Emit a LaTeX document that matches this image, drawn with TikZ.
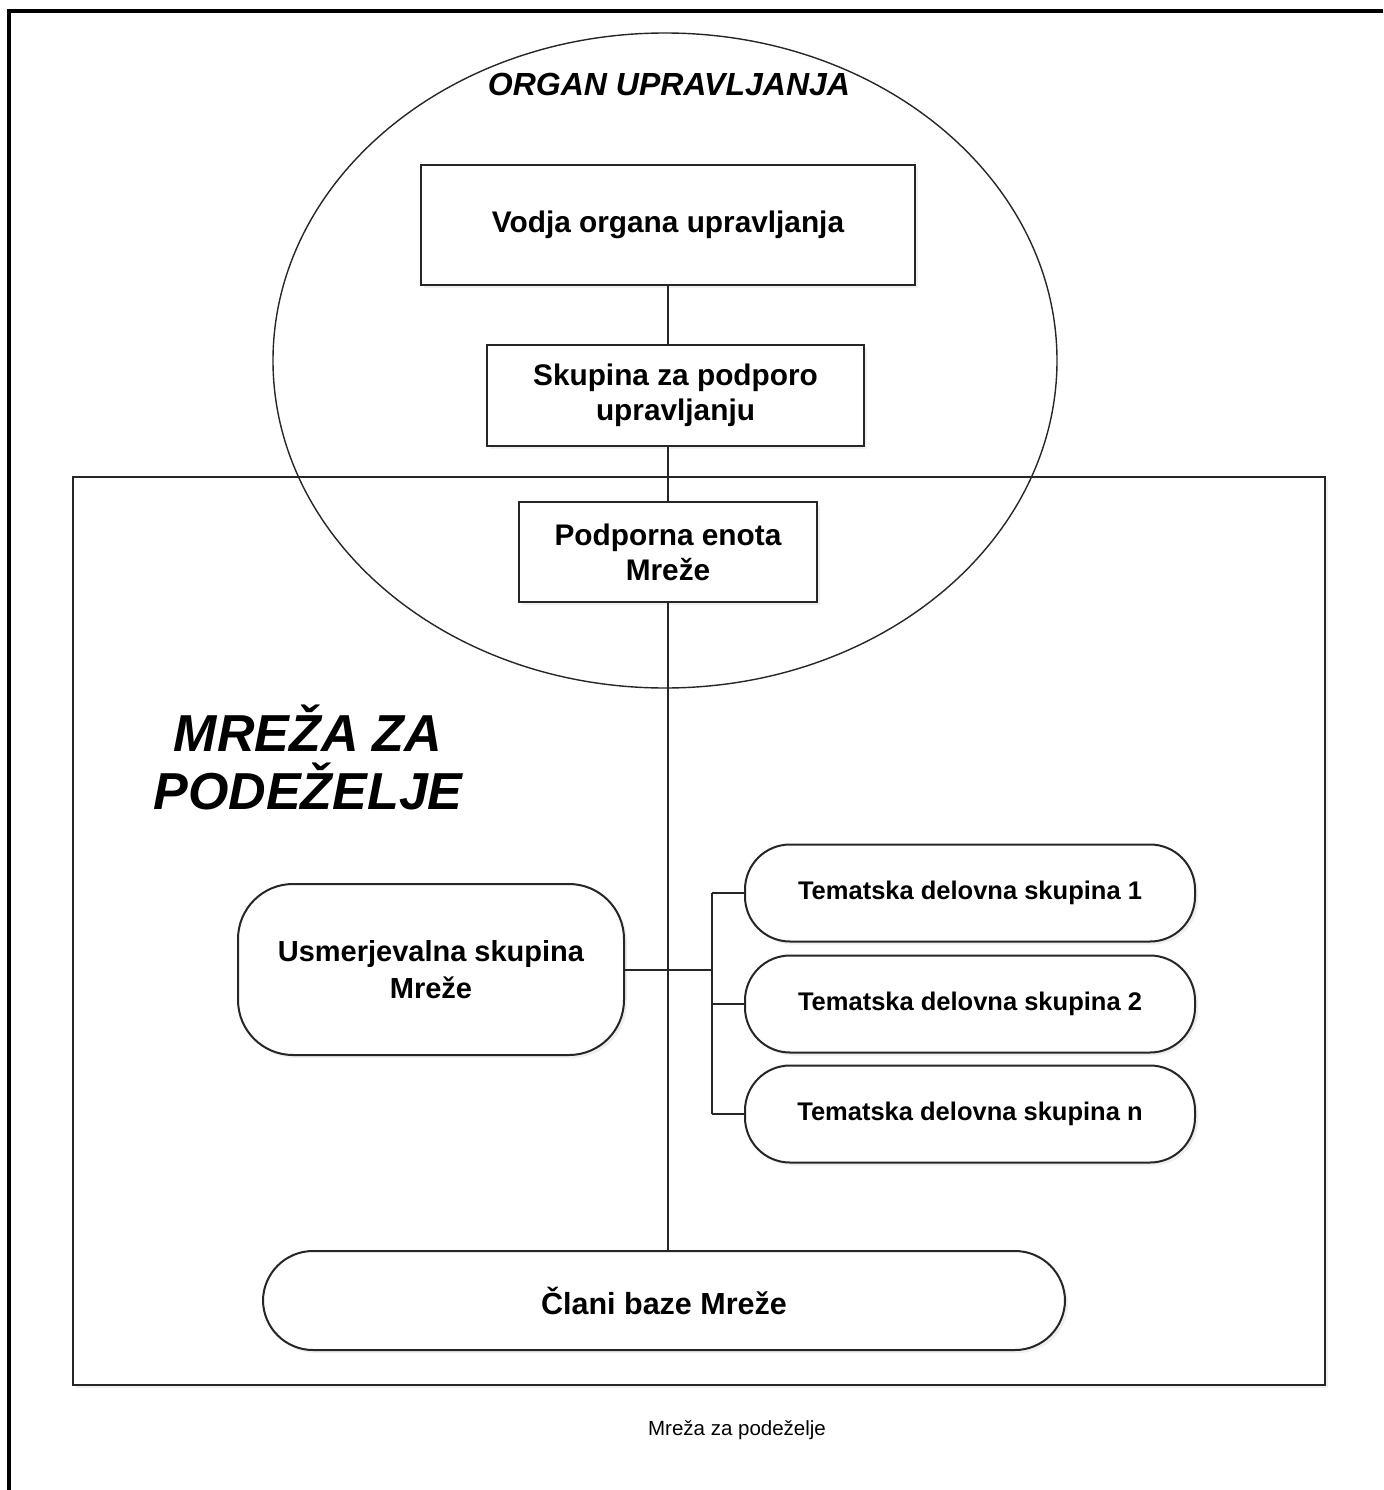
\documentclass[tikz,border=0pt]{standalone}
\usepackage{fontspec}
\setmainfont{Liberation Sans}
\usetikzlibrary{shapes.geometric,shadows}

\begin{document}
\begin{tikzpicture}[x=1pt,y=-1pt,
    box/.style={draw=black!85,line width=2pt,fill=white,inner sep=0pt,align=center,
      font=\fontsize{29.8}{35}\selectfont\bfseries,
      drop shadow={opacity=0.12,shadow xshift=3pt,shadow yshift=-3pt}},
    pill/.style={box,rounded corners=#1},
    line/.style={black!85,line width=2pt}]
     \useasboundingbox (0,0) rectangle (1383,1490);
     % okvir
     \draw[line width=4pt] (8.5,1490) -- (8.5,11.5) -- (1383,11.5);
     \node[box,minimum width=1252pt,minimum height=908pt] (mreza) at (699,931) {};
     \node[ellipse,draw=black!85,line width=1.4pt,inner sep=0pt,
           minimum width=784pt,minimum height=655pt] (organ) at (665,360.5) {};
     \node[font=\fontsize{32}{36}\selectfont\bfseries\itshape] (organnapis) at (669,84) {ORGAN UPRAVLJANJA};
     \node[align=center,font=\fontsize{52}{58}\selectfont\bfseries\itshape] (mrezanapis) at (308,757) {MREŽA ZA\\PODEŽELJE};
     % povezave
     \coordinate (veja) at (712,969.5);
     \node[box,minimum width=494pt,minimum height=120pt] (vodja) at (668,225) {Vodja organa upravljanja};
     \node[box,minimum width=377pt,minimum height=101pt] (skupina) at (675.5,395.5) {Skupina za podporo\\upravljanju};
     \node[box,minimum width=298pt,minimum height=100pt] (enota) at (668,552) {Podporna enota\\Mreže};
     \node[pill=50pt,minimum width=802pt,minimum height=99pt,font=\fontsize{30.5}{36}\selectfont\bfseries] (clani) at (664,1300.5) {Člani baze Mreže};
     \node[pill=55pt,minimum width=386pt,minimum height=171pt,font=\fontsize{29}{37}\selectfont\bfseries] (usmer) at (431,969.5) {Usmerjevalna skupina\\Mreže};
     \foreach \i/\y/\t in {1/893/1,2/1004/2,3/1114/n}
        \node[pill=45pt,minimum width=450pt,minimum height=97pt,font=\fontsize{25.5}{28}\selectfont\bfseries] (tema\i) at (970,\y) {Tematska delovna skupina \t};
     \draw[line] (vodja.south) -- (vodja.south |- skupina.north);
     \draw[line] (vodja.south |- skupina.south) -- (vodja.south |- enota.north);
     \draw[line] (vodja.south |- enota.south) -- (vodja.south |- clani.north);
     \draw[line] (usmer.east) -- (veja);
     \draw[line] (veja |- tema1.west) -- (veja |- tema3.west);
     \foreach \i in {1,2,3}
        \draw[line] (veja |- tema\i.west) -- (tema\i.west);
     \node[font=\fontsize{20.5}{24}\selectfont] (napis) at (737,1430) {Mreža za podeželje};
\end{tikzpicture}
\end{document}
